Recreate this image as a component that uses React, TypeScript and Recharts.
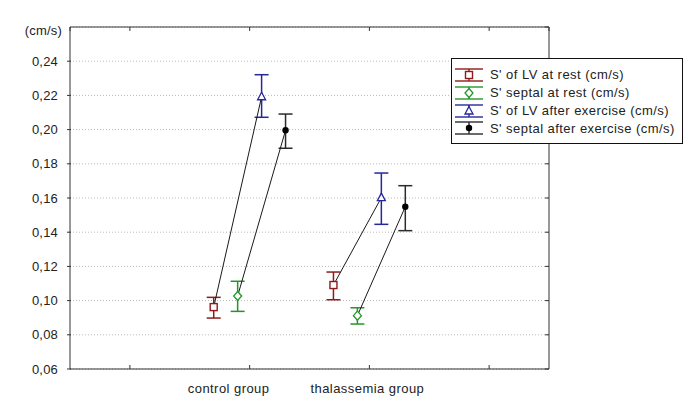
import React from "react";
import {
  ScatterChart,
  Scatter,
  XAxis,
  YAxis,
  CartesianGrid,
  ErrorBar,
  Legend,
} from "recharts";

const groups = ["control group", "thalassemia group"];
const groupPos = [1, 2];
const xTicks = [0, 1, 2, 3];
const yTicks = [0.06, 0.08, 0.1, 0.12, 0.14, 0.16, 0.18, 0.2, 0.22, 0.24, 0.26];

// means and confidence limits
const lvRest = [0.0962, 0.1091];
const lvRestLow = [0.0898, 0.1005];
const lvRestHigh = [0.1019, 0.1167];

const septalRest = [0.1027, 0.0912];
const septalRestLow = [0.0937, 0.0863];
const septalRestHigh = [0.1113, 0.0958];

const lvExercise = [0.2192, 0.1602];
const lvExerciseLow = [0.2072, 0.1446];
const lvExerciseHigh = [0.2321, 0.1746];

const septalExercise = [0.1996, 0.1549];
const septalExerciseLow = [0.1891, 0.1409];
const septalExerciseHigh = [0.2091, 0.1672];

const FONT = "'Liberation Sans', Arial, sans-serif";
const SPACING = 0.45;
const X_DOMAIN: [number, number] = [-0.5, 3.5];
const Y_DOMAIN: [number, number] = [0.06, 0.26];
const FRAME = "#333";

type Kind = "square" | "diamond" | "triangle" | "dot";

const series: {
  name: string;
  mean: number[];
  low: number[];
  high: number[];
  color: string;
  kind: Kind;
  shift: number;
}[] = [
  { name: "S' of LV at rest (cm/s)", mean: lvRest, low: lvRestLow, high: lvRestHigh, color: "#8e1b1b", kind: "square", shift: -0.3 },
  { name: "S' septal at rest (cm/s)", mean: septalRest, low: septalRestLow, high: septalRestHigh, color: "#23962a", kind: "diamond", shift: -0.1 },
  { name: "S' of LV after exercise (cm/s)", mean: lvExercise, low: lvExerciseLow, high: lvExerciseHigh, color: "#26279a", kind: "triangle", shift: 0.1 },
  { name: "S' septal after exercise (cm/s)", mean: septalExercise, low: septalExerciseLow, high: septalExerciseHigh, color: "#2b2b2b", kind: "dot", shift: 0.3 },
];

// rest -> after exercise
const links = [
  [0, 2],
  [1, 3],
];

const pointsOf = (s: (typeof series)[number]) =>
  groupPos.map((g, i) => ({
    x: g + s.shift,
    y: s.mean[i],
    err: [s.mean[i] - s.low[i], s.high[i] - s.mean[i]],
  }));

function Marker({ cx, cy, kind, color }: { cx: number; cy: number; kind: Kind; color: string }) {
  if (kind === "square")
    return <rect x={cx - 3.5} y={cy - 3.5} width={7} height={7} fill="#fff" stroke={color} strokeWidth={1.4} />;
  if (kind === "diamond")
    return (
      <polygon
        points={`${cx},${cy - 4.5} ${cx + 4},${cy} ${cx},${cy + 4.5} ${cx - 4},${cy}`}
        fill="#fff"
        stroke={color}
        strokeWidth={1.3}
      />
    );
  if (kind === "triangle")
    return (
      <polygon
        points={`${cx},${cy - 4.5} ${cx + 4},${cy + 3} ${cx - 4},${cy + 3}`}
        fill="#fff"
        stroke={color}
        strokeWidth={1.3}
      />
    );
  return <circle cx={cx} cy={cy} r={3.2} fill="#000" />;
}

const labelShift = [-21, -2];

function BottomTick({ x, y, payload }: any) {
  const idx = groupPos.indexOf(payload.value);
  return (
    <g>
      <line x1={x} x2={x} y1={y - 4} y2={y} stroke={FRAME} />
      {idx >= 0 && (
        <text
          x={x + labelShift[idx]}
          y={y + 24}
          textAnchor="middle"
          fontSize={13}
          fontFamily={FONT}
          letterSpacing={SPACING}
          fill="#222"
        >
          {groups[idx]}
        </text>
      )}
    </g>
  );
}

function LeftTick({ x, y, payload }: any) {
  const v = payload.value as number;
  const top = v > 0.25;
  return (
    <g>
      {!top && <line x1={x - 3} x2={x + 1} y1={y} y2={y} stroke={FRAME} />}
      <text
        x={top ? x - 8 : x - 12}
        y={top ? y + 8 : y + 4.5}
        textAnchor="end"
        fontSize={13}
        fontFamily={FONT}
        letterSpacing={0.2}
        fill="#222"
      >
        {top ? "(cm/s)" : v.toFixed(2).replace(".", ",")}
      </text>
    </g>
  );
}

function LegendBox() {
  return (
    <div
      style={{
        border: "1px solid #111",
        background: "#fff",
        padding: "7px 0 6px 0",
        width: 232,
        boxSizing: "border-box",
        fontFamily: FONT,
        fontSize: 13,
        letterSpacing: SPACING,
        color: "#222",
      }}
    >
      {series.map((s) => (
        <div key={s.name} style={{ display: "flex", alignItems: "center", height: 17.8, whiteSpace: "nowrap" }}>
          <svg width={38} height={18} style={{ display: "block" }}>
            <line x1={3} x2={31} y1={3} y2={3} stroke={s.color} strokeWidth={1.4} />
            <line x1={17} x2={17} y1={3} y2={15} stroke={s.color} strokeWidth={1.4} />
            <line x1={3} x2={31} y1={15} y2={15} stroke={s.color} strokeWidth={1.4} />
            <Marker cx={17} cy={9} kind={s.kind} color={s.color} />
          </svg>
          <span>{s.name}</span>
        </div>
      ))}
    </div>
  );
}

const axisCommon = {
  type: "number" as const,
  interval: 0 as const,
  tickLine: false,
  tickSize: 0,
  tickMargin: 0,
  axisLine: { stroke: FRAME },
};

// small inward tick on the right edge, one per y tick
const rightTick = (p: any) => (
  <line key={p.key} x1={p.x2 - 4} x2={p.x2} y1={p.y1} y2={p.y1} stroke={FRAME} strokeWidth={1} />
);
// small inward tick on the top edge, one per x tick
const topTick = (p: any) => (
  <line key={p.key} x1={p.x1} x2={p.x1} y1={p.y1} y2={p.y1 + 4} stroke={FRAME} strokeWidth={1} />
);

export default function App() {
  return (
    <div style={{ margin: -8, width: 697, height: 410, background: "#fff", position: "relative" }}>
      <ScatterChart width={697} height={410} margin={{ top: 27, right: 148, bottom: 11, left: 0 }}>
        <CartesianGrid vertical={false} stroke="#b8b8b8" strokeDasharray="1 2" />
        {/* top and right edges of the frame */}
        <CartesianGrid
          stroke={FRAME}
          strokeWidth={1}
          fill="none"
          horizontalCoordinatesGenerator={({ offset }: any) => [offset.top]}
          verticalCoordinatesGenerator={({ offset }: any) => [offset.left + offset.width]}
        />
        {/* inward tick marks on the top and right edges */}
        <CartesianGrid stroke="none" fill="none" horizontal={rightTick} vertical={topTick} />
        <XAxis {...axisCommon} dataKey="x" domain={X_DOMAIN} ticks={xTicks} tick={<BottomTick />} height={30} />
        <YAxis {...axisCommon} dataKey="y" domain={Y_DOMAIN} ticks={yTicks} tick={<LeftTick />} width={70} />
        {links.flatMap(([a, b]) =>
          groupPos.map((_, i) => (
            <Scatter
              key={`link-${a}-${b}-${i}`}
              data={[pointsOf(series[a])[i], pointsOf(series[b])[i]]}
              line={{ stroke: "#1a1a1a", strokeWidth: 1 }}
              shape={() => <g />}
              legendType="none"
              isAnimationActive={false}
            />
          ))
        )}
        {series.map((s) => (
          <Scatter
            key={s.name}
            name={s.name}
            data={pointsOf(s)}
            shape={(p: any) => <Marker cx={p.cx} cy={p.cy} kind={s.kind} color={s.color} />}
            isAnimationActive={false}
          >
            <ErrorBar dataKey="err" direction="y" width={7} stroke={s.color} strokeWidth={1.5} />
          </Scatter>
        ))}
        <Legend
          layout="horizontal"
          align="center"
          verticalAlign="middle"
          content={() => <LegendBox />}
          wrapperStyle={{ left: 451, top: 58, width: 232 }}
        />
      </ScatterChart>
    </div>
  );
}
